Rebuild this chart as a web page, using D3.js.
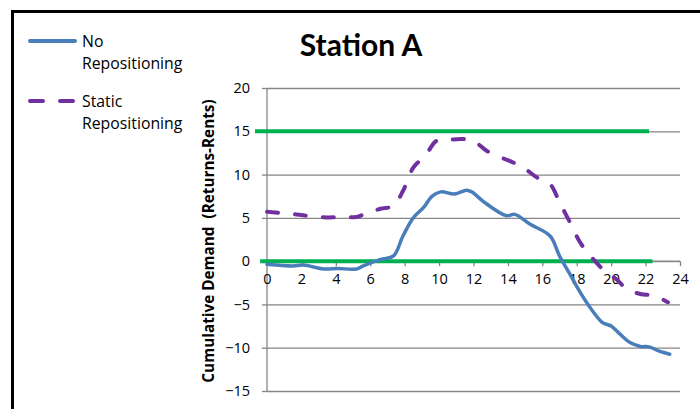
<!DOCTYPE html>
<html>
<head>
<meta charset="utf-8">
<script src="https://cdn.jsdelivr.net/npm/d3@7"></script>
<style>
  body { margin: 0; background: #fff; }
  svg { display: block; font-family: "Open Sans", "Noto Sans", sans-serif; }
</style>
</head>
<body>
<svg id="chart" width="700" height="409"></svg>
<script>
// Data
const title = "Station A"
const yTitle = "Cumulative Demand  (Returns-Rents)"
const xTicks = [0, 2, 4, 6, 8, 10, 12, 14, 16, 18, 20, 22, 24]
const yTicks = [-15, -10, -5, 0, 5, 10, 15, 20]

const noRepoHours = [0, 1.5, 2.1, 3.3, 4.1, 5.2, 5.6, 6.6, 7.35, 7.9, 8.5, 9.1, 9.6, 10.1, 10.9, 11.6, 11.9, 12.6, 13.9, 14.4, 15.3, 16.45, 17.0, 17.6, 18.2, 18.9, 19.5, 20.0, 20.5, 21.1, 21.7, 22.2, 22.8, 23.4]
const noRepoValues = [-0.35, -0.55, -0.45, -0.9, -0.85, -0.9, -0.55, 0.2, 0.6, 2.9, 5.0, 6.2, 7.5, 8.0, 7.75, 8.2, 8.0, 6.85, 5.25, 5.4, 4.25, 2.9, 0.6, -1.5, -3.6, -5.7, -7.1, -7.5, -8.4, -9.4, -9.85, -9.9, -10.4, -10.75]

const staticHours = [0, 1.7, 2.5, 3.5, 4.3, 5.2, 5.8, 6.6, 7.35, 7.9, 8.5, 9.2, 9.85, 10.4, 11.4, 12.0, 12.8, 14.3, 14.9, 15.7, 16.45, 17.0, 17.6, 18.2, 18.8, 19.6, 20.3, 20.9, 21.7, 22.5, 23.3]
const staticValues = [5.7, 5.4, 5.2, 5.05, 5.1, 5.1, 5.55, 6.05, 6.4, 8.1, 10.8, 12.2, 13.9, 14.0, 14.1, 13.9, 12.7, 11.4, 10.8, 9.65, 8.9, 6.8, 4.5, 2.15, 0.6, -1.1, -2.1, -3.2, -3.8, -4.0, -4.75]

const upperLimitHours = [-0.7, 22.2]
const upperLimitValues = [15, 15]
const lowerLimitHours = [-0.4, 22.4]
const lowerLimitValues = [0, 0]

const blue = "#4A7EBB"
const purple = "#7030A0"
const green = "#00B050"
const grid = "#868686"

const svg = d3.select("#chart")

// Outer frame (runs off the right and bottom edges)
svg.append("rect")
  .attr("x", 12.5).attr("y", 11.5)
  .attr("width", 760).attr("height", 460)
  .attr("fill", "none")
  .attr("stroke", "#000")
  .attr("stroke-width", 3)

const x = d3.scaleLinear().domain([0, 24]).range([267, 680])
const y = d3.scaleLinear().domain([-15, 20]).range([391, 88])

// Horizontal grid lines
svg.append("g")
  .attr("transform", `translate(${x(0)},0)`)
  .call(d3.axisLeft(y).tickValues(yTicks).tickSize(-(x(24) - x(0))).tickFormat(""))
  .call(g => g.select(".domain").remove())
  .selectAll("line")
  .attr("stroke", grid)
  .attr("stroke-width", 1.3)

// Y axis with outside ticks
const yAxis = svg.append("g")
  .attr("transform", `translate(${x(0)},0)`)
  .call(d3.axisLeft(y).tickValues(yTicks).tickSize(5).tickPadding(12))
yAxis.selectAll("line, path").attr("stroke", grid).attr("stroke-width", 1.3)
yAxis.select(".domain").attr("d", `M0,${y(-15)}V${y(20)}`)
yAxis.selectAll("text")
  .attr("fill", "#000")
  .style("font-size", "14.5px")
  .style("font-family", "'Open Sans', sans-serif")

// X axis sits at y = 0
const xAxis = svg.append("g")
  .attr("transform", `translate(0,${y(0)})`)
  .call(d3.axisBottom(x).tickValues(xTicks).tickSize(5).tickPadding(8))
xAxis.selectAll("line, path").attr("stroke", grid).attr("stroke-width", 1.3)
xAxis.select(".domain").attr("d", `M${x(0)},0H${x(24)}`)
xAxis.selectAll("text")
  .attr("fill", "#000")
  .style("font-size", "14.5px")
  .style("font-family", "'Open Sans', sans-serif")

// Green limit lines
const straight = d3.line().x(d => x(d[0])).y(d => y(d[1]))
svg.append("path")
  .datum(d3.zip(upperLimitHours, upperLimitValues))
  .attr("d", straight)
  .attr("fill", "none").attr("stroke", green).attr("stroke-width", 4)
svg.append("path")
  .datum(d3.zip(lowerLimitHours, lowerLimitValues))
  .attr("d", straight)
  .attr("fill", "none").attr("stroke", green).attr("stroke-width", 4)

// Smoothed series
const smooth = d3.line()
  .x(d => x(d[0]))
  .y(d => y(d[1]))
  .curve(d3.curveCatmullRom.alpha(0.5))

svg.append("path")
  .datum(d3.zip(staticHours, staticValues))
  .attr("d", smooth)
  .attr("fill", "none")
  .attr("stroke", purple)
  .attr("stroke-width", 4)
  .attr("stroke-linecap", "round")
  .attr("stroke-dasharray", "11,17")

svg.append("path")
  .datum(d3.zip(noRepoHours, noRepoValues))
  .attr("d", smooth)
  .attr("fill", "none")
  .attr("stroke", blue)
  .attr("stroke-width", 3.5)
  .attr("stroke-linecap", "round")

// Title
svg.append("text")
  .attr("x", 361).attr("y", 56)
  .attr("text-anchor", "middle")
  .style("font-family", "Lato, sans-serif")
  .style("font-size", "30px")
  .style("font-weight", "bold")
  .text(title)

// Y axis title
svg.append("text")
  .attr("transform", `translate(214,241) rotate(-90)`)
  .attr("text-anchor", "middle")
  .attr("xml:space", "preserve")
  .style("font-size", "15.3px")
  .style("font-weight", "bold")
  .style("white-space", "pre")
  .text(yTitle)

// Legend
const legend = svg.append("g")
legend.append("line")
  .attr("x1", 30).attr("x2", 75).attr("y1", 41).attr("y2", 41)
  .attr("stroke", blue).attr("stroke-width", 4).attr("stroke-linecap", "round")
legend.append("line")
  .attr("x1", 30).attr("x2", 73).attr("y1", 101).attr("y2", 101)
  .attr("stroke", purple).attr("stroke-width", 4).attr("stroke-linecap", "round")
  .attr("stroke-dasharray", "13,17")

const legendLines = [["No", 47], ["Repositioning", 69], ["Static", 107], ["Repositioning", 129]]
legend.selectAll("text.leg")
  .data(legendLines)
  .enter().append("text")
  .attr("class", "leg")
  .attr("x", 82)
  .attr("y", d => d[1])
  .style("font-size", "15.8px")
  .text(d => d[0])
</script>
</body>
</html>
